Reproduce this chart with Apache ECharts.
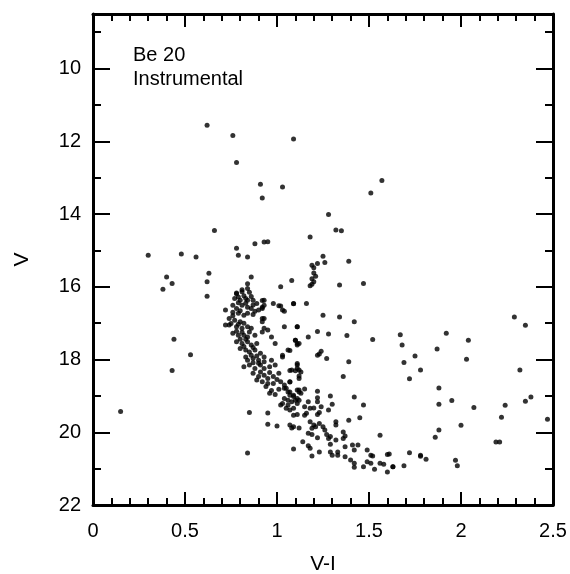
<!DOCTYPE html>
<html>
<head>
<meta charset="utf-8">
<script src="https://cdn.jsdelivr.net/npm/echarts@6/dist/echarts.min.js"></script>
<style>html,body{margin:0;padding:0;background:#fff;}#c{width:570px;height:574px;}</style>
</head>
<body>
<div id="c"></div>
<script>
// [V-I, V] pairs
var brightField = [
[0.62,11.56],[0.76,11.84],[0.78,12.58],[1.09,11.94],[0.91,13.18],[0.92,13.56],[1.03,13.26],[1.57,13.08],[1.51,13.42],[1.28,14.01],[1.32,14.44],[1.35,14.46],[0.66,14.45],[1.18,14.63],
[0.30,15.13],[0.48,15.10],[0.56,15.18],[0.78,14.94],[0.79,15.13],[0.84,15.18],[0.88,14.82],[0.93,14.77],[0.95,14.76],
[0.40,15.73],[0.43,15.91],[0.38,16.07],[0.63,15.63],[0.62,15.86],[0.62,16.26],[0.86,15.73],[0.84,15.92],[1.02,16.0],
[1.25,15.16],[1.19,15.41],[1.22,15.36],[1.26,15.33],[1.39,15.30],[1.20,15.48],[1.20,15.62],[1.21,15.71],[1.19,15.78],[1.20,15.86],[1.19,15.93],[1.18,15.97],[1.08,15.83],[1.34,15.95],[1.47,15.91]
];
var blueField = [
[0.44,17.44],[0.53,17.87],[0.43,18.30],[0.15,19.43],[0.84,20.57],[0.85,19.46],[0.95,19.47],[0.95,19.78],[1.00,19.83]
];
var redField = [
[2.29,16.83],[2.35,17.06],[1.67,17.32],[1.68,17.60],[1.92,17.28],[2.04,17.47],[1.87,17.71],[1.75,17.90],[1.69,18.08],[2.03,17.99],[1.78,18.29],[2.32,18.29],[1.72,18.53],[1.88,18.78],[1.88,19.23],[1.95,19.13],[2.07,19.32],[2.35,19.15],[2.38,19.03],[2.24,19.26],[2.22,19.59],[2.47,19.64],[2.00,19.81],[1.88,19.94],[1.86,20.14],[2.19,20.27],[2.21,20.27],[1.72,20.56],[1.78,20.63],[1.78,20.66],[1.81,20.74],[1.97,20.77],[1.98,20.92],[1.63,20.95],[1.69,20.92],[1.61,20.60]
];
var middleField = [
[1.09,16.47],[1.16,16.46],[1.25,16.78],[1.34,16.83],[1.42,16.96],[1.04,16.67],[1.11,17.10],[1.22,17.23],[1.28,17.30],[1.38,17.34],[1.17,17.38],[1.52,17.45],[1.10,17.47],[1.12,17.56],[1.11,17.60],[1.07,17.75],[1.24,17.77],[1.23,17.85],[1.22,17.88],[1.27,17.97],[1.39,18.06],[1.11,18.15],[1.12,18.29],[1.10,18.31],[1.07,18.30],[1.12,18.45],[1.07,18.62],[1.36,18.47],[1.56,20.08]
];
var turnoffClump = [
[0.81,16.08],[0.84,16.05],[0.78,16.17],[0.85,16.15],[0.78,16.19],[0.81,16.14],
[0.77,16.32],[0.80,16.37],[0.83,16.32],[0.84,16.37],[0.87,16.37],[0.89,16.46],[0.93,16.37],[0.79,16.28],[0.82,16.25],[0.86,16.27],
[0.98,16.46],[1.01,16.52],[1.03,16.64],[1.09,16.46],[0.72,16.64],[0.92,16.38],[0.93,16.51],[0.92,16.56],[1.02,16.53],
[0.76,16.51],[0.78,16.60],[0.81,16.51],[0.84,16.56],[0.86,16.60],[0.88,16.67],[0.90,16.64],[0.92,16.60],[0.79,16.44],[0.83,16.45],[0.87,16.50],
[0.79,16.73],[0.82,16.78],[0.84,16.73],[0.87,16.76],[0.76,16.70],[0.80,16.66],
[0.74,16.87],[0.77,16.92],[0.75,17.01],[0.74,17.05],[0.92,16.87],[0.93,16.87],[0.92,16.96],[0.72,17.05],[0.76,16.80],
[0.80,16.96],[0.78,17.10],[0.81,17.14],[0.84,17.10],[0.86,17.14],[0.79,17.03],[0.82,17.00],
[0.93,17.14],[0.95,17.19],[0.92,17.24],[1.04,17.10],[1.11,17.10],
[0.76,17.28],[0.79,17.33],[0.82,17.33],[0.84,17.38],[0.88,17.33],[0.78,17.22],[0.81,17.25],[0.85,17.24],
[0.97,17.38],[0.78,17.51],[0.81,17.56],[0.84,17.51],[0.86,17.60],[0.89,17.56],[0.80,17.44],[0.83,17.44],
[0.99,17.56],[1.10,17.47],[1.11,17.56],[1.06,17.74],
[0.80,17.70],[0.83,17.74],[0.85,17.79],[0.88,17.74],[0.91,17.83],[0.82,17.64],[0.87,17.67],
[1.03,17.88],[1.03,17.93],[1.11,18.11],
[0.83,17.93],[0.84,18.02],[0.87,17.97],[0.90,18.02],[0.93,17.93],[0.93,18.06],[0.86,17.88],[0.89,17.90],
[0.97,18.02],[0.82,18.20],[0.85,18.15],[0.88,18.25],[0.91,18.15],[0.93,18.25],[0.96,18.20],[0.99,18.15],[0.87,18.09],[0.90,18.10],
[1.08,18.29],[1.11,18.25],[1.13,18.34],
[0.87,18.38],[0.90,18.47],[0.93,18.43],[0.95,18.52],[0.98,18.47],[1.01,18.38],[0.91,18.34],[0.96,18.36],[0.89,18.56],
[0.92,18.61],[0.95,18.66],[0.98,18.66],[1.02,18.61],[1.04,18.70],[1.12,18.52],[0.94,18.74],[1.00,18.55],
[0.96,18.93],[0.99,18.96],[0.97,18.85],[1.01,18.82],[1.05,18.79],[1.07,18.89],[1.09,18.98],[1.13,18.93]
];
var mainSequence = [
[1.04,18.79],[1.06,18.89],[1.07,18.98],[1.09,19.02],[1.04,19.07],[1.06,19.12],[1.11,18.84],[1.12,18.89],[1.07,18.61],
[1.02,19.25],[1.03,19.21],[1.06,19.25],[1.08,19.16],[1.10,19.12],[1.11,19.07],[1.05,19.34],[1.07,19.39],[1.09,19.34],[1.09,19.53],[1.11,19.51],
[1.07,19.80],[1.08,19.88],[1.09,19.85],[1.09,20.46],
[1.12,18.84],[1.15,18.81],[1.22,18.87],[1.29,19.00],[1.42,19.03],[1.12,19.12],[1.11,19.21],[1.17,19.16],[1.15,19.30],[1.18,19.34],[1.20,19.33],[1.22,19.05],[1.22,19.16],[1.24,19.30],[1.30,19.23],[1.28,19.39],[1.47,19.25],
[1.16,19.48],[1.15,19.53],[1.22,19.51],[1.23,19.46],[1.45,19.60],[1.39,19.67],[1.12,19.88],[1.18,19.71],[1.20,19.80],[1.21,19.85],[1.19,19.89],[1.23,19.76],[1.25,19.85],[1.26,19.94],[1.32,19.71],[1.32,19.80],
[1.17,20.03],[1.19,20.06],[1.22,20.15],[1.27,20.06],[1.29,20.12],[1.28,20.17],[1.36,19.99],[1.37,20.10],[1.32,20.21],[1.36,20.17],[1.14,20.26],[1.29,20.33],[1.17,20.37],[1.18,20.44],
[1.23,20.54],[1.19,20.65],[1.29,20.54],[1.30,20.63],[1.33,20.54],[1.33,20.63],[1.37,20.40],[1.41,20.35],[1.44,20.35],[1.42,20.49],[1.49,20.49],[1.51,20.63],[1.52,20.65],[1.60,20.61],
[1.37,20.67],[1.40,20.76],[1.42,20.85],[1.49,20.81],[1.51,20.85],[1.56,20.85],[1.58,20.88],[1.53,21.02],[1.60,21.09],[1.63,20.95],[1.47,20.95],[1.42,20.96]
];
var xTicks = [0, 0.5, 1, 1.5, 2, 2.5];
var yMajorTicks = [10, 12, 14, 16, 18, 20, 22];
var yMinorTicks = [9, 11, 13, 15, 17, 19, 21];
var annotation = ['Be 20', 'Instrumental'];
var xName = 'V-I', yName = 'V';

var FONT = 'Liberation Sans, Arial, Helvetica, sans-serif';
var allPoints = [].concat(brightField, blueField, redField, middleField, turnoffClump, mainSequence);
var chart = echarts.init(document.getElementById('c'), null, {renderer: 'canvas'});
var lineW = 3;
function xAx(pos, labels) {
  return {
    type: 'value', position: pos, min: xTicks[0], max: xTicks[xTicks.length - 1], interval: 0.5,
    name: labels ? xName : '', nameLocation: 'middle', nameGap: 49,
    nameTextStyle: {color: '#000', fontSize: 21, fontFamily: FONT},
    axisLine: {show: true, onZero: false, lineStyle: {color: '#000', width: lineW}},
    axisTick: {show: true, inside: true, length: 13, lineStyle: {color: '#000', width: 2}},
    minorTick: {show: true, splitNumber: 5, length: 7, lineStyle: {color: '#000', width: 2}},
    axisLabel: {show: labels, margin: 16, color: '#000', fontSize: 20, fontFamily: FONT},
    splitLine: {show: false}, minorSplitLine: {show: false}
  };
}
function yAx(pos, ticks, len, labels, showLine) {
  return {
    type: 'value', position: pos, inverse: true, min: 8.5, max: 22,
    name: labels ? yName : '', nameLocation: 'middle', nameGap: 60, nameRotate: 90,
    nameTextStyle: {color: '#000', fontSize: 21, fontFamily: FONT},
    axisLine: {show: showLine, onZero: false, lineStyle: {color: '#000', width: lineW}},
    axisTick: {show: true, inside: true, length: len, customValues: ticks, lineStyle: {color: '#000', width: 2}},
    axisLabel: {show: labels, customValues: ticks, margin: 12, color: '#000', fontSize: 20, fontFamily: FONT},
    splitLine: {show: false}
  };
}
chart.setOption({
  animation: false,
  backgroundColor: '#fff',
  grid: {left: 93, right: 17, top: 14, bottom: 69, containLabel: false, outerBoundsMode: 'none'},
  xAxis: [xAx('bottom', true), xAx('top', false)],
  yAxis: [
    yAx('left', yMajorTicks, 17, true, true),
    yAx('left', yMinorTicks, 8, false, false),
    yAx('right', yMajorTicks, 17, false, true),
    yAx('right', yMinorTicks, 8, false, false)
  ],
  graphic: [{
    type: 'text', left: 133, top: 43,
    style: {text: annotation.join('\n'), font: '20px ' + FONT, fill: '#000', lineHeight: 24}
  }],
  series: [{
    type: 'scatter', xAxisIndex: 0, yAxisIndex: 0,
    symbol: 'circle', symbolSize: 5,
    itemStyle: {color: '#000'},
    data: allPoints
  }]
});
</script>
</body>
</html>
